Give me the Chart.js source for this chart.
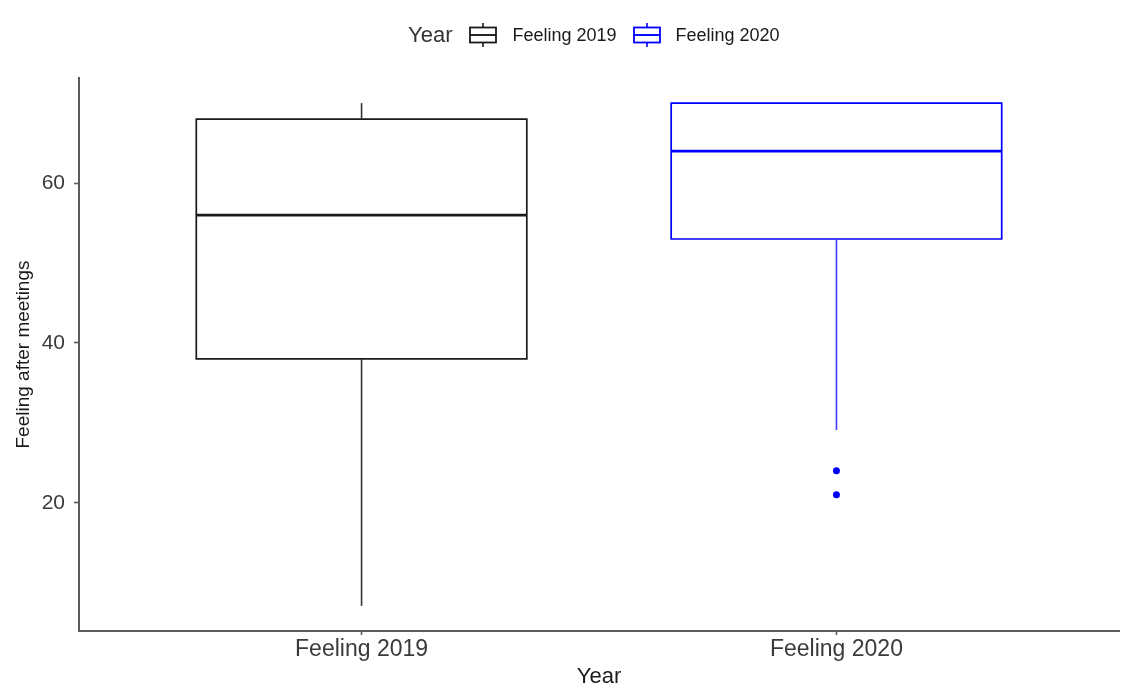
<!DOCTYPE html>
<html>
<head>
<meta charset="utf-8">
<script src="https://cdn.jsdelivr.net/npm/chart.js@4.4.1/dist/chart.umd.min.js"></script>
<style>
  html, body { margin: 0; padding: 0; background: #fff; }
  #wrap { position: relative; width: 1133px; height: 697px; }
  #legend { position: absolute; left: 408px; top: 22px; height: 26px; display: flex; align-items: center;
            font-family: "Liberation Sans", Arial, sans-serif; color: #1a1a1a; }
  #legend .ttl { font-size: 22px; margin-right: 17px; color: #333; }
  #legend .item { display: flex; align-items: center; font-size: 18px; margin-right: 16px; }
  #legend svg { margin-right: 15px; }
</style>
</head>
<body>
<div id="wrap">
  <canvas id="c" width="1133" height="697"></canvas>
  <div id="legend"></div>
</div>
<script>
const categories = ['Feeling 2019', 'Feeling 2020'];
const boxMin    = [7.1, 29.1];
const boxQ1     = [38, 53];
const boxMedian = [56, 64];
const boxQ3     = [68, 70];
const boxMax    = [70, 70];
const outliers  = [[], [24, 21]];
const yTicks    = [20, 40, 60];
const seriesColors = ['#1a1a1a', '#0000ff'];
const whiskerColors = ['#333333', '#3b3bff'];

const halfW = 0.348;
const datasets = [];
categories.forEach((cat, i) => {
  const x = i + 1;
  const col = seriesColors[i];
  const base = { showLine: true, pointRadius: 0, pointHoverRadius: 0, fill: false,
                 borderJoinStyle: 'miter', borderCapStyle: 'butt', tension: 0 };
  datasets.push(Object.assign({}, base, { label: cat + ' lower whisker', borderColor: whiskerColors[i], borderWidth: 1.6,
    data: [{ x: x, y: boxMin[i] }, { x: x, y: boxQ1[i] }] }));
  datasets.push(Object.assign({}, base, { label: cat + ' upper whisker', borderColor: whiskerColors[i], borderWidth: 1.6,
    data: [{ x: x, y: boxQ3[i] }, { x: x, y: boxMax[i] }] }));
  datasets.push(Object.assign({}, base, { label: cat + ' box', borderColor: col, borderWidth: 1.7, borderCapStyle: 'square',
    data: [{ x: x - halfW, y: boxQ1[i] }, { x: x + halfW, y: boxQ1[i] }, { x: x + halfW, y: boxQ3[i] },
           { x: x - halfW, y: boxQ3[i] }, { x: x - halfW, y: boxQ1[i] }] }));
  datasets.push(Object.assign({}, base, { label: cat + ' median', borderColor: col, borderWidth: 2.8,
    data: [{ x: x - halfW, y: boxMedian[i] }, { x: x + halfW, y: boxMedian[i] }] }));
  if (outliers[i].length) {
    datasets.push({ label: cat + ' outliers', showLine: false, pointRadius: 3.5, pointBorderWidth: 0,
      backgroundColor: col, borderColor: col,
      data: outliers[i].map(v => ({ x: x, y: v })) });
  }
});

const axisColor = '#5a5a5a';
const tickTextColor = '#3a3a3a';

new Chart(document.getElementById('c'), {
  type: 'scatter',
  data: { datasets },
  options: {
    responsive: false,
    animation: false,
    devicePixelRatio: 1,
    layout: { padding: { top: 78, right: 14, bottom: 0, left: 0 } },
    plugins: { legend: { display: false }, tooltip: { enabled: false } },
    scales: {
      x: {
        type: 'linear', min: 0.405, max: 2.595,
        afterBuildTicks: s => { s.ticks = categories.map((c, i) => ({ value: i + 1 })); },
        afterFit: s => { s.height = 66; },
        ticks: { color: tickTextColor, font: { family: 'Liberation Sans', size: 23 }, padding: 1,
                 maxRotation: 0, autoSkip: false,
                 callback: v => categories[Math.round(v) - 1] },
        grid: { drawOnChartArea: false, tickLength: 4, color: axisColor, tickWidth: 1.6 },
        border: { display: true, color: axisColor, width: 2 },
        title: { display: true, text: 'Year', color: '#1a1a1a', font: { family: 'Liberation Sans', size: 22 },
                 padding: { top: 0, bottom: 7 } }
      },
      y: {
        type: 'linear', min: 3.955, max: 73.145,
        afterBuildTicks: s => { s.ticks = yTicks.map(v => ({ value: v })); },
        afterFit: s => { s.width = 79; },
        ticks: { color: tickTextColor, font: { family: 'Liberation Sans', size: 21 }, padding: 9 },
        grid: { drawOnChartArea: false, tickLength: 5, color: axisColor, tickWidth: 1.6 },
        border: { display: true, color: axisColor, width: 2 },
        title: { display: true, text: 'Feeling after meetings', color: '#1a1a1a',
                 font: { family: 'Liberation Sans', size: 19 }, padding: { top: 12, bottom: 0 } }
      }
    }
  }
});

function glyph(color) {
  return '<svg width="28" height="24" viewBox="0 0 28 24">' +
    '<line x1="14" y1="0" x2="14" y2="24" stroke="' + color + '" stroke-width="1.6"/>' +
    '<rect x="1" y="4.5" width="26" height="15" fill="#fff" stroke="' + color + '" stroke-width="1.8"/>' +
    '<line x1="1" y1="12" x2="27" y2="12" stroke="' + color + '" stroke-width="1.9"/>' +
    '</svg>';
}
const leg = document.getElementById('legend');
let html = '<span class="ttl">Year</span>';
categories.forEach((c, i) => {
  html += '<span class="item">' + glyph(seriesColors[i]) + '<span>' + c + '</span></span>';
});
leg.innerHTML = html;
</script>
</body>
</html>
